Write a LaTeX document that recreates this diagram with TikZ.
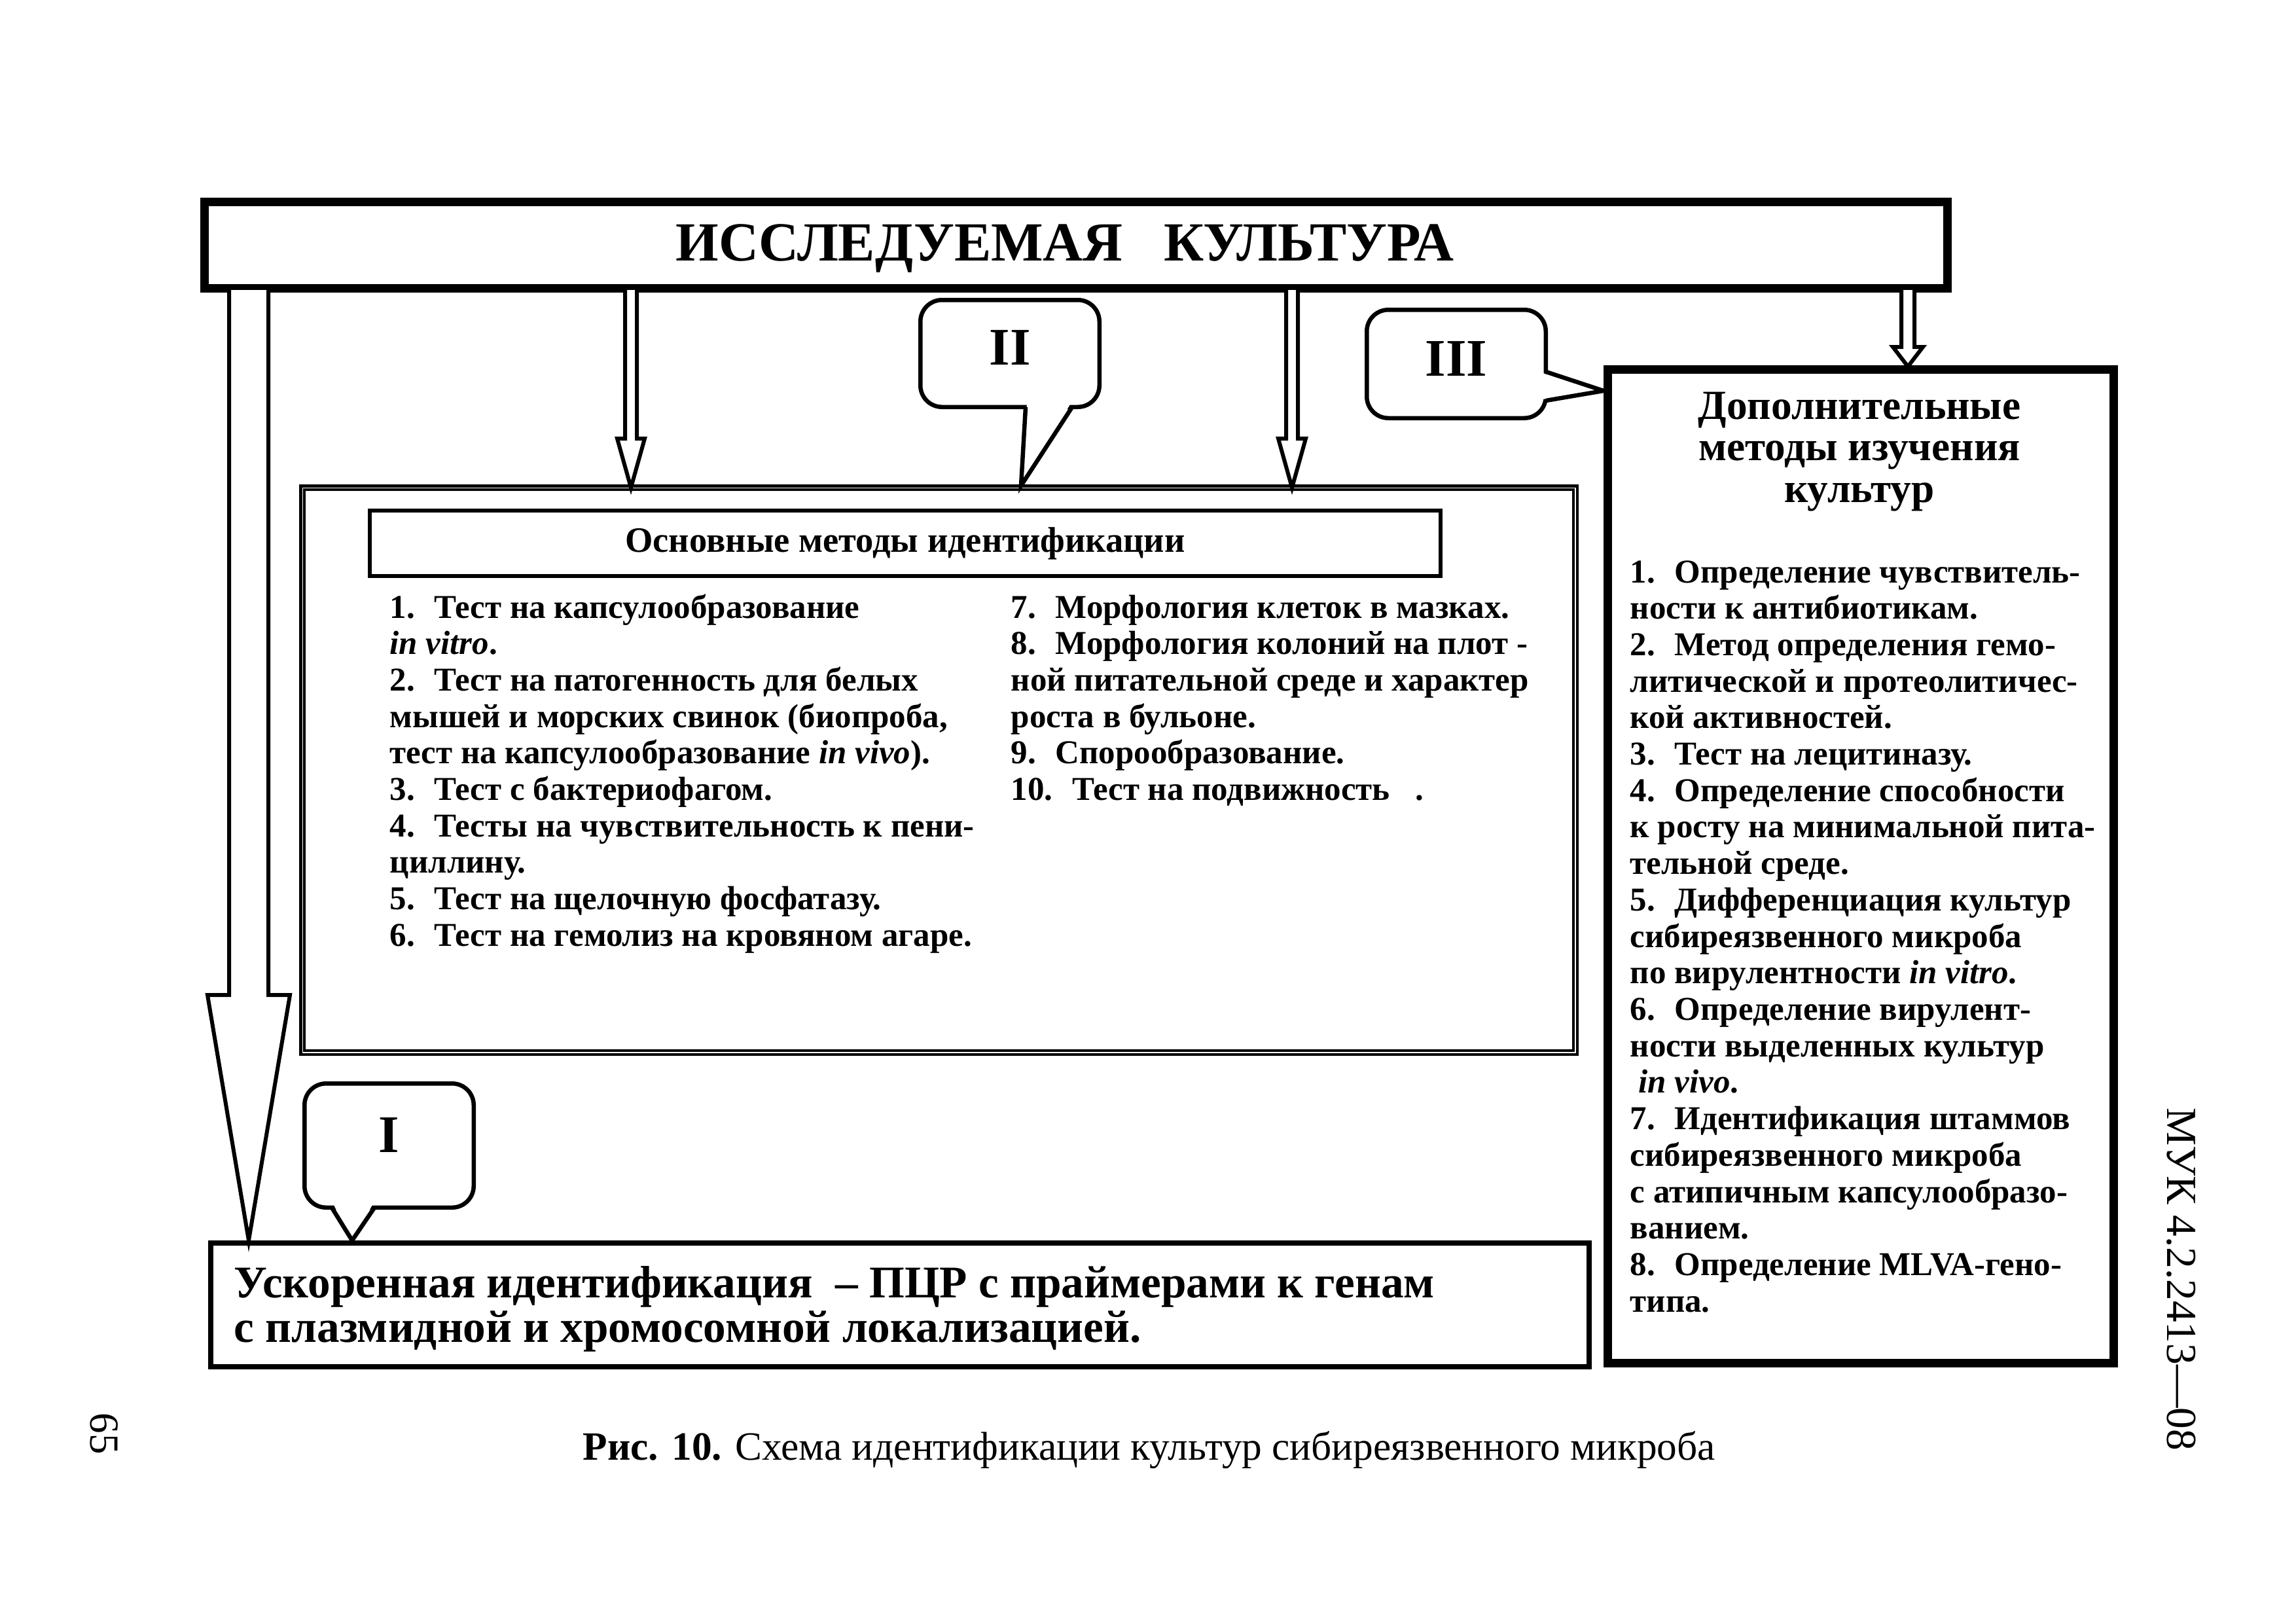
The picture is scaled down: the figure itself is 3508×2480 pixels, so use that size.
\documentclass[tikz,border=0pt]{standalone}
\usepackage{fontspec}
\setmainfont{Liberation Serif}
\usetikzlibrary{calc}
\newcommand{\itemfont}{\bfseries\fontsize{14.5}{15.85}\selectfont}
\begin{document}
\begin{tikzpicture}[x=0.1mm,y=-0.1mm,
  framebox/.style={draw, line width=1mm, inner sep=0pt},
  frameinner/.style={line width=0.4mm},
  dblbox/.style={draw, line width=0.45mm, inner sep=0pt},
  hdrbox/.style={draw, line width=0.6mm, inner sep=0pt},
  pcrbox/.style={draw, line width=0.8mm, inner sep=0pt},
  bubble/.style={draw, line width=0.65mm, rounded corners=3.3mm, fill=white, inner sep=0pt,
     font=\bfseries\fontsize{23}{23}\selectfont},
  bubbleline/.style={line width=0.65mm, line join=miter},
  hollow/.style={line width=0.6mm, line join=miter, fill=white},
  txt/.style={inner sep=0pt}
]
\fill[white] (0,0) rectangle (3508,2480);
\useasboundingbox (0,0) rectangle (3508,2480);

% ---- boxes ----
\node[framebox, minimum width=266.6mm, minimum height=13.5mm] (top) at (1644,374.5) {};
\draw[frameinner] ([shift={(11,11)}]top.north west) rectangle ([shift={(-11,-11)}]top.south east);
\node[txt, anchor=base, font=\bfseries\fontsize{24}{24}\selectfont] (title) at (1627,398) {ИССЛЕДУЕМАЯ\ \ \ КУЛЬТУРА};

\node[dblbox, minimum width=195.05mm, minimum height=86.85mm] (main) at (1434.5,1176.5) {};
\draw[line width=0.45mm] ([shift={(8,8)}]main.north west) rectangle ([shift={(-8,-8)}]main.south east);

\node[hdrbox, minimum width=163.6mm, minimum height=10mm, font=\bfseries\fontsize{15.5}{15.5}\selectfont] (hdr) at (1383,830) {Основные методы идентификации};

\node[framebox, minimum width=77.6mm, minimum height=152.1mm] (extra) at (2843,1323.5) {};
\draw[frameinner] ([shift={(11,11)}]extra.north west) rectangle ([shift={(-11,-11)}]extra.south east);

\node[pcrbox, minimum width=210.6mm, minimum height=18.9mm] (pcr) at (1375,1993.5) {};

% ---- arrows ----
\coordinate (tipA) at (380,1895);
\coordinate (tipB) at (964,745);
\coordinate (tipC) at (1974,745);
\coordinate (tipD) at (2915,560);
\draw[hollow] (350,443) -- (350,1520) -- (317,1520) -- (tipA) -- (443,1520) -- (410,1520) -- (410,443);
\draw[hollow] (955,443) -- (955,670) -- (943,670) -- (tipB) -- (985,670) -- (973,670) -- (973,443);
\draw[hollow] (1965,443) -- (1965,670) -- (1953,670) -- (tipC) -- (1995,670) -- (1983,670) -- (1983,443);
\draw[hollow] (2905,443) -- (2905,530) -- (2892,530) -- (tipD) -- (2938,530) -- (2925,530) -- (2925,443);

% ---- callouts ----
\node[bubble, minimum width=25.85mm, minimum height=18.95mm] (b1) at (594.5,1750) {\raisebox{3.1mm}{I}};
\coordinate (p1) at (538,1895);
\fill[white] (509,1839) -- (p1) -- (570,1839) -- cycle;
\draw[bubbleline] (507,1845) -- (p1) -- (572,1845);

\node[bubble, minimum width=27.35mm, minimum height=16.35mm] (b2) at (1543,540) {\raisebox{1.8mm}{II}};
\coordinate (p2) at (1560,742);
\fill[white] (1569,616) -- (p2) -- (1636,616) -- cycle;
\draw[bubbleline] (1567,622) -- (p2) -- (1638,622);

\node[bubble, minimum width=27.35mm, minimum height=16.55mm] (b3) at (2225,556) {\raisebox{1.6mm}{III}};
\coordinate (p3) at (2450,597);
\fill[white] (2357,570) -- (p3) -- (2357,610) -- cycle;
\draw[bubbleline] (2362,568) -- (p3) -- (2362,612);

% ---- texts ----
\node[txt, anchor=base west] (lcol) at (595,944) {\parbox[t]{100mm}{\raggedright\itemfont
1.~ Тест на капсулообразование\\
\textit{in vitro}.\\
2.~ Тест на патогенность для белых\\
мышей и морских свинок (биопроба,\\
тест на капсулообразование \textit{in vivo}).\\
3.~ Тест с бактериофагом.\\
4.~ Тесты на чувствительность к пени-\\
циллину.\\
5.~ Тест на щелочную фосфатазу.\\
6.~ Тест на гемолиз на кровяном агаре.}};

\node[txt, anchor=base west] (rcol) at (1544,944) {\parbox[t]{100mm}{\raggedright\itemfont
7.~ Морфология клеток в мазках.\\
8.~ Морфология колоний на плот -\\
ной питательной среде и характер\\
роста в бульоне.\\
9.~ Спорообразование.\\
10.~ Тест на подвижность~~~.}};

\node[txt, anchor=base] (xtitle) at (2841,640) {\parbox[t]{70mm}{\centering\bfseries\fontsize{18}{18.2}\selectfont
Дополнительные\\методы изучения\\культур}};

\node[txt, anchor=base west] (xlist) at (2490,890) {\parbox[t]{90mm}{\raggedright\itemfont
1.~ Определение чувствитель-\\
ности к антибиотикам.\\
2.~ Метод определения гемо-\\
литической и протеолитичес-\\
кой активностей.\\
3.~ Тест на лецитиназу.\\
4.~ Определение способности\\
к росту на минимальной пита-\\
тельной среде.\\
5.~ Дифференциация культур\\
сибиреязвенного микроба\\
по вирулентности \textit{in vitro}.\\
6.~ Определение вирулент-\\
ности выделенных культур\\
\ \textit{in vivo}.\\
7.~ Идентификация штаммов\\
сибиреязвенного микроба\\
с атипичным капсулообразо-\\
ванием.\\
8.~ Определение MLVA-гено-\\
типа.}};

\node[txt, anchor=base west] (pcrtext) at (357,1982) {\parbox[t]{220mm}{\raggedright\bfseries\fontsize{19.7}{19.4}\selectfont
Ускоренная идентификация~ -- ПЦР с праймерами к генам\\
с плазмидной и хромосомной локализацией.}};

\node[txt, anchor=base west, font=\fontsize{17.45}{17.45}\selectfont] (caption) at (890,2230) {\textbf{Рис. 10.} Схема идентификации культур сибиреязвенного микроба};

\node[txt, rotate=-90, font=\fontsize{18}{18}\selectfont] (pageno) at (159,2190) {65};
\node[txt, rotate=-90, font=\fontsize{18.6}{18.6}\selectfont] (doc) at (3333,1954) {МУК 4.2.2413—08};
\end{tikzpicture}
\end{document}
